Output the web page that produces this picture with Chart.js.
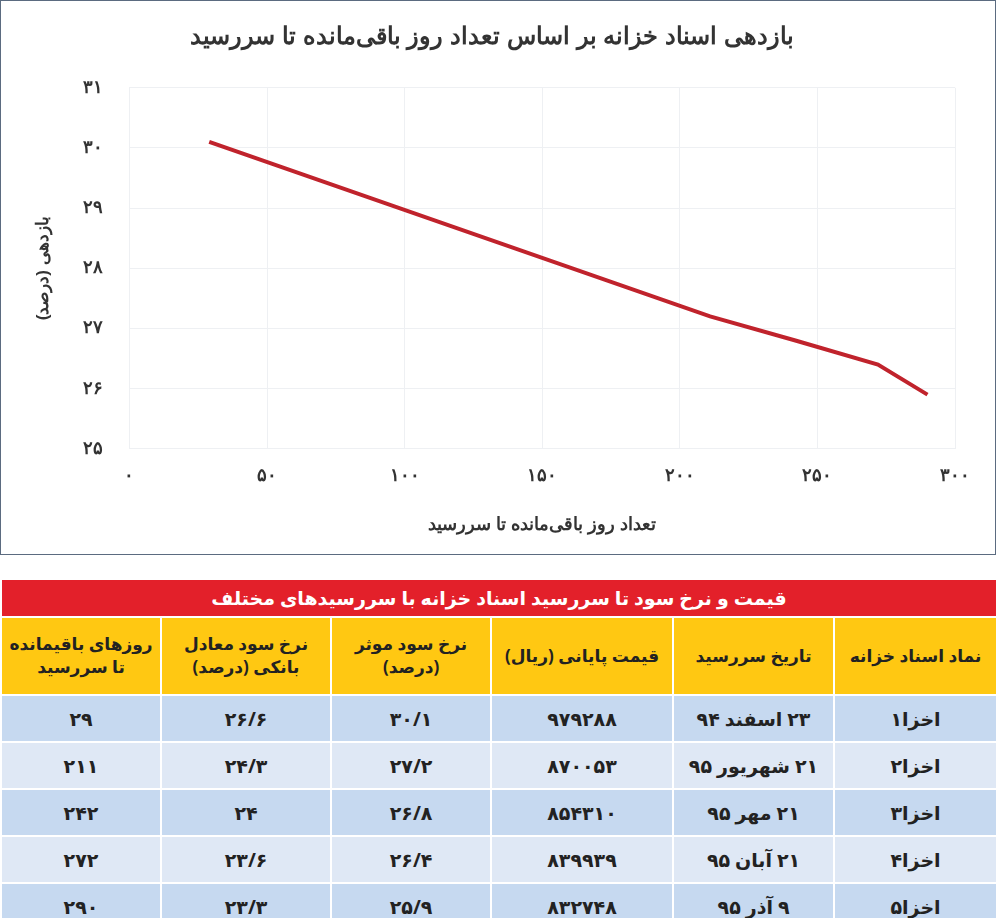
<!DOCTYPE html>
<html><head><meta charset="utf-8">
<script src="https://cdn.jsdelivr.net/npm/chart.js"></script>
<style>
body{margin:0;width:996px;height:918px;background:#fff;font-family:"Noto Sans","DejaVu Sans",sans-serif;overflow:hidden}
#box{position:absolute;left:0;top:0;width:994px;height:553px;border:1px solid #5b6b80;background:#fff}
#wrap{position:absolute;left:0;top:0;width:994px;height:553px}
table{position:absolute;left:0;top:578px;width:996px;border-collapse:collapse;direction:rtl;font-weight:bold;table-layout:fixed}
td,th{text-align:center;border:2px solid #fff;padding:0;overflow:hidden}
.red{background:#e3202a;color:#fff;font-size:19px;height:36px}
.hd th{background:#ffc812;color:#222;font-size:17px;height:76px;line-height:1.35}
tr.r td{height:45px;font-size:19px;color:#222}
tr.a td{background:#c6d9f0}
tr.b td{background:#dfe8f5}
</style></head><body>
<div id="box"><div id="wrap"><canvas id="c"></canvas></div></div>
<table id="t"></table>
<script>
const days=[29,211,242,272,290];
const yields=[30.1,27.2,26.8,26.4,25.9];
const headers=["نماد اسناد خزانه","تاریخ سررسید","قیمت پایانی (ریال)","نرخ سود موثر<br>(درصد)","نرخ سود معادل<br>بانکی (درصد)","روزهای باقیمانده<br>تا سررسید"];
const symbols=["اخزا۱","اخزا۲","اخزا۳","اخزا۴","اخزا۵"];
const dates=["۲۳ اسفند ۹۴","۲۱ شهریور ۹۵","۲۱ مهر ۹۵","۲۱ آبان ۹۵","۹ آذر ۹۵"];
const prices=["۹۷۹۲۸۸","۸۷۰۰۵۳","۸۵۴۳۱۰","۸۳۹۹۳۹","۸۳۲۷۴۸"];
const effRate=["۳۰/۱","۲۷/۲","۲۶/۸","۲۶/۴","۲۵/۹"];
const bankRate=["۲۶/۶","۲۴/۳","۲۴","۲۳/۶","۲۳/۳"];
const daysFa=["۲۹","۲۱۱","۲۴۲","۲۷۲","۲۹۰"];
const colW=[163,161,182,160,170,160];
const fa=s=>String(s).replace(/\d/g,d=>"۰۱۲۳۴۵۶۷۸۹"[d]);
let h='<colgroup>'+colW.map(w=>'<col style="width:'+w+'px">').join('')+'</colgroup>';
h+='<tr><td class="red" colspan="6">قیمت و نرخ سود تا سررسید اسناد خزانه با سررسیدهای مختلف</td></tr><tr class="hd">'+headers.map(x=>'<th>'+x+'</th>').join('')+'</tr>';
symbols.forEach((s,i)=>{h+='<tr class="r '+(i%2?'b':'a')+'"><td>'+s+'</td><td>'+dates[i]+'</td><td>'+prices[i]+'</td><td>'+effRate[i]+'</td><td>'+bankRate[i]+'</td><td>'+daysFa[i]+'</td></tr>';});
document.getElementById('t').innerHTML=h;
new Chart(document.getElementById('c'),{type:'line',
data:{datasets:[{data:days.map((d,i)=>({x:d,y:yields[i]})),borderColor:'#c0232c',borderWidth:4,pointRadius:0,tension:0}]},
options:{responsive:true,maintainAspectRatio:false,animation:false,
layout:{padding:{left:28,right:40,top:12,bottom:14}},
plugins:{legend:{display:false},tooltip:{enabled:false},
title:{display:true,text:'بازدهی اسناد خزانه بر اساس تعداد روز باقی‌مانده تا سررسید',font:{size:24,weight:'bold'},color:'#333',padding:{top:10,bottom:36}}},
scales:{x:{type:'linear',min:0,max:300,ticks:{stepSize:50,callback:v=>fa(v),font:{size:18,weight:'bold'},color:'#333',padding:16},
grid:{color:'#eef0f3',drawTicks:false},border:{display:false},
title:{display:true,text:'تعداد روز باقی‌مانده تا سررسید',font:{size:18,weight:'bold'},color:'#333',padding:{top:12}}},
y:{min:25,max:31,ticks:{stepSize:1,callback:v=>fa(v),font:{size:18,weight:'bold'},color:'#333',padding:26},
grid:{color:'#eef0f3',drawTicks:false},border:{display:false},
title:{display:true,text:'بازدهی (درصد)',font:{size:17,weight:'bold'},color:'#333'}}}}});
</script></body></html>
